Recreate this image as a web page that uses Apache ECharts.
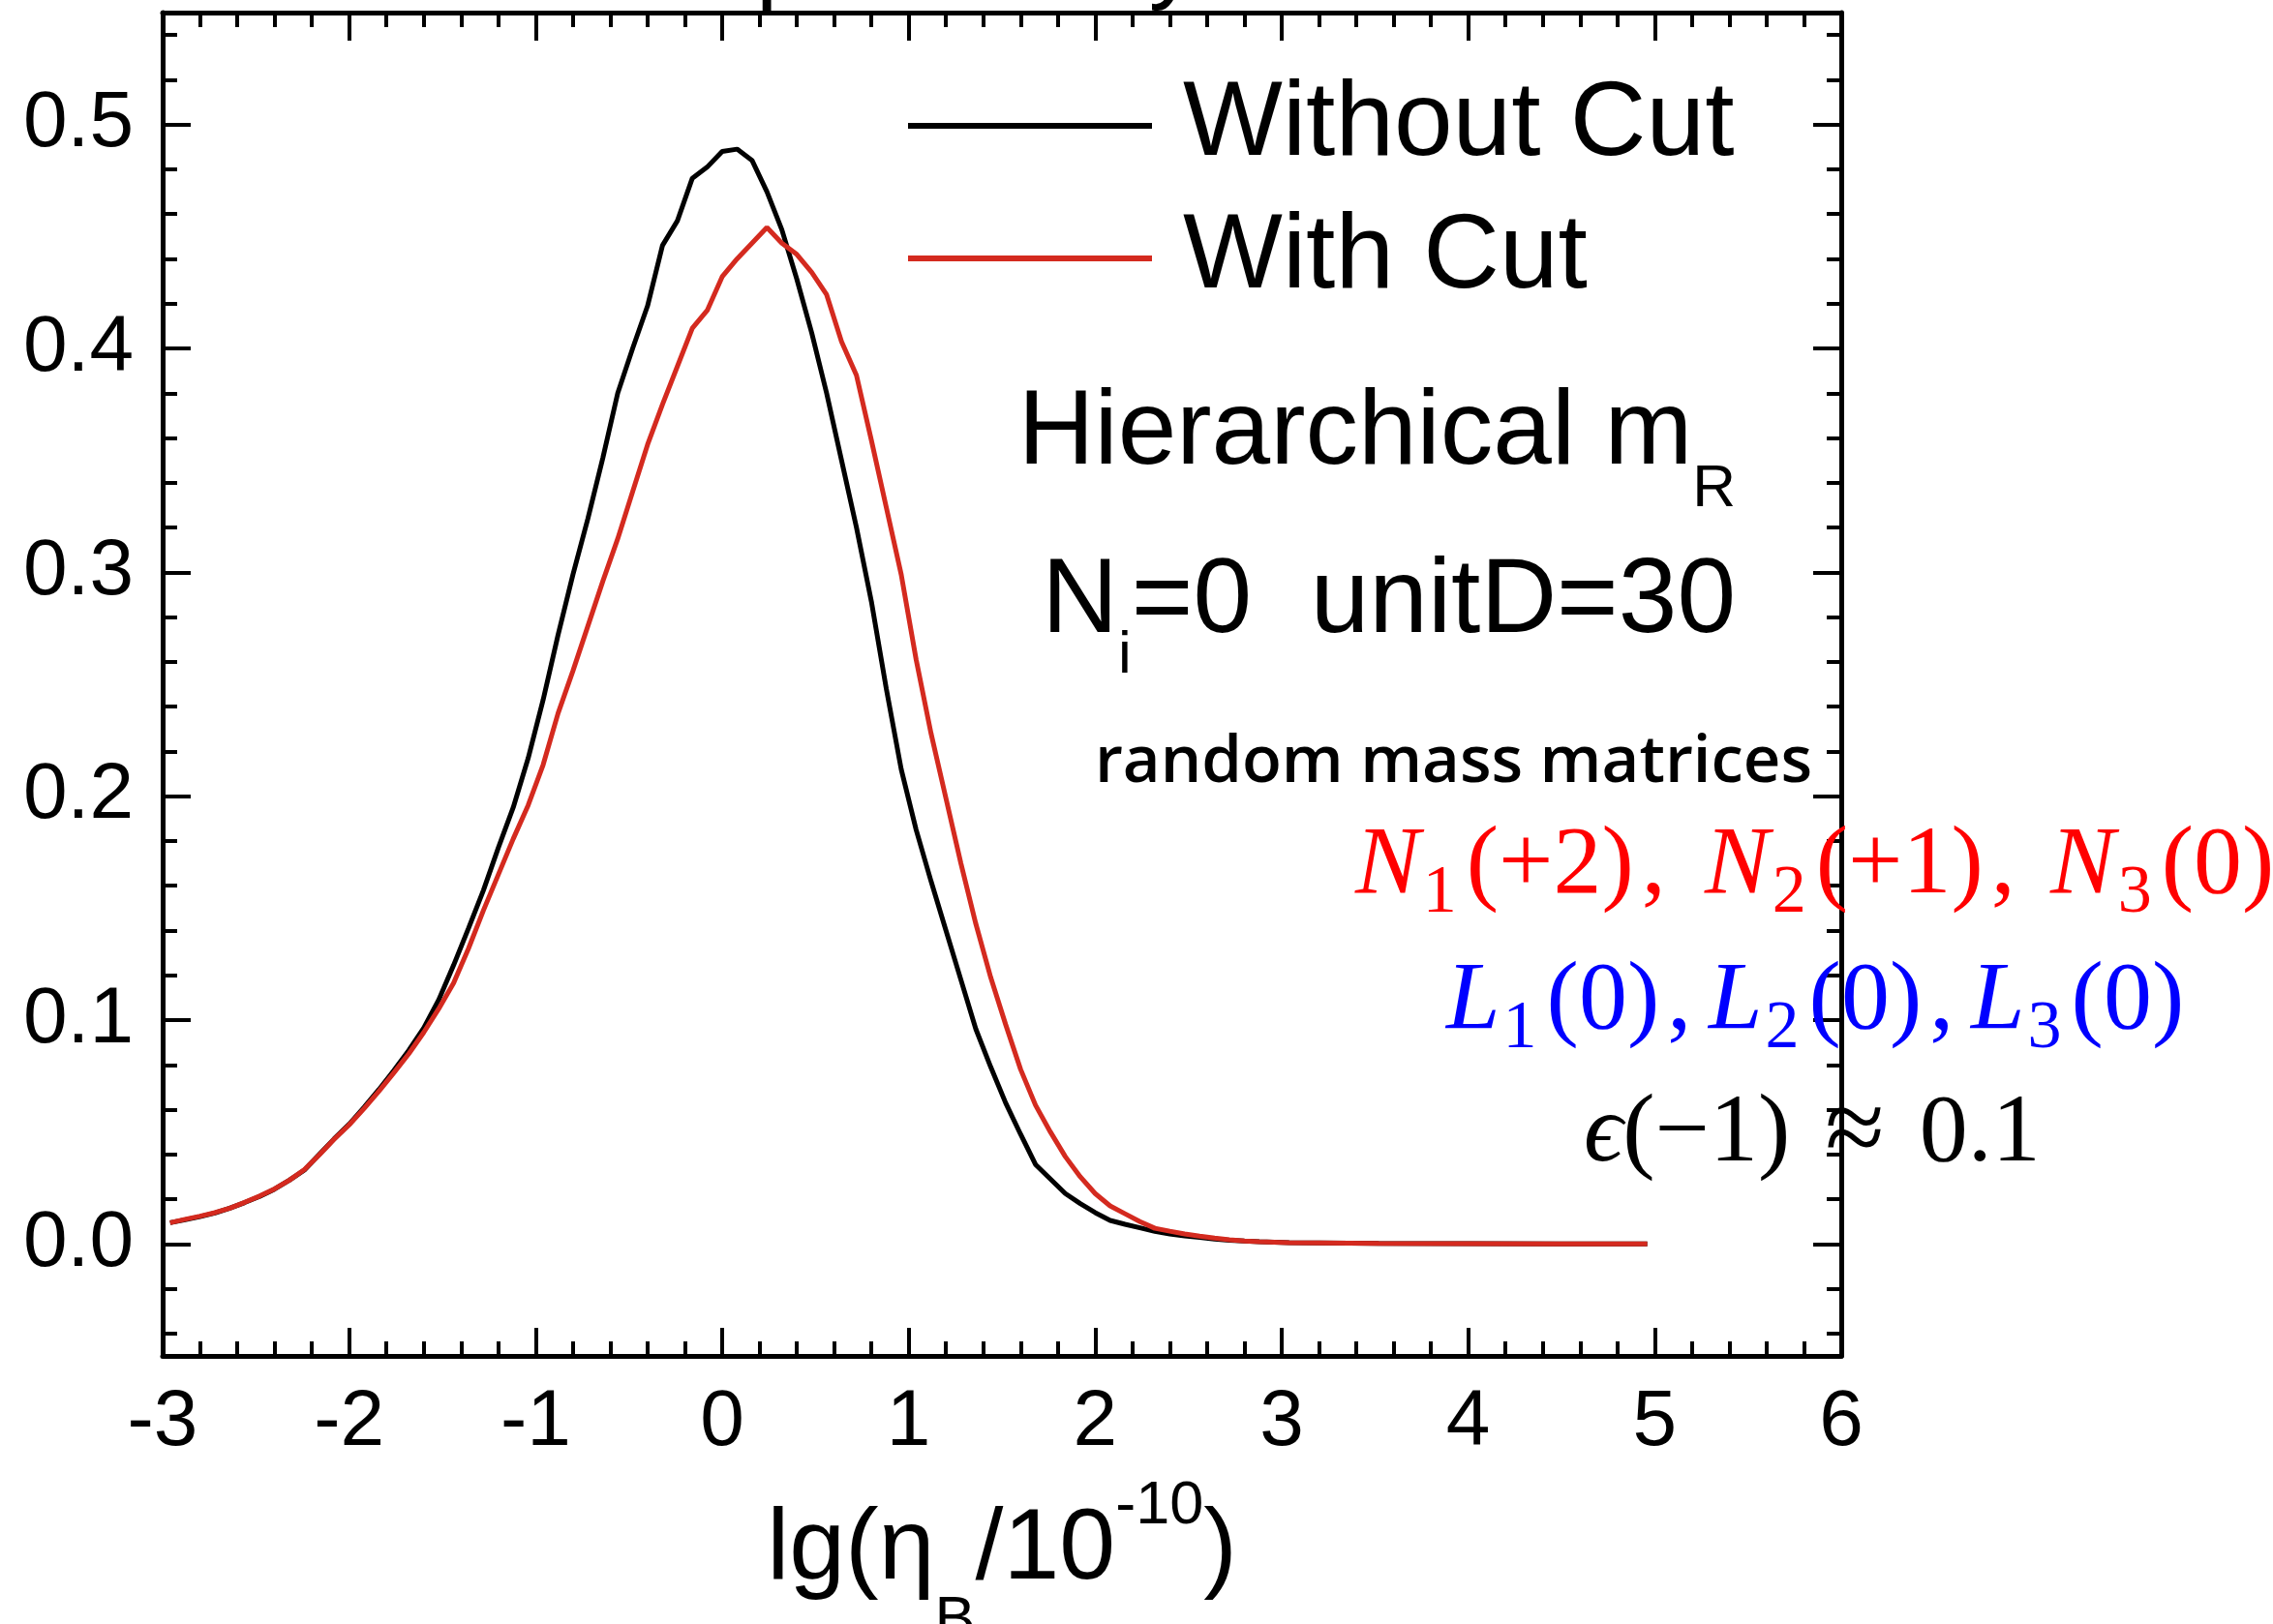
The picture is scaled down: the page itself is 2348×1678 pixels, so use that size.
<!DOCTYPE html>
<html>
<head>
<meta charset="utf-8">
<script src="https://cdn.jsdelivr.net/npm/echarts@6/dist/echarts.min.js"></script>
<style>
html, body { margin: 0; padding: 0; background: #fff; }
#chart { width: 2348px; height: 1678px; }
</style>
</head>
<body>
<div id="chart"></div>
<script>
// lg(eta_B / 1e-10) bin centres
const etaBins = [
  -2.96, -2.88, -2.80, -2.72, -2.64, -2.56, -2.48, -2.40, -2.32, -2.24,
  -2.16, -2.08, -2.00, -1.92, -1.84, -1.76, -1.68, -1.60, -1.52, -1.44,
  -1.36, -1.28, -1.20, -1.12, -1.04, -0.96, -0.88, -0.80, -0.72, -0.64,
  -0.56, -0.48, -0.40, -0.32, -0.24, -0.16, -0.08, 0.00, 0.08, 0.16,
  0.24, 0.32, 0.40, 0.48, 0.56, 0.64, 0.72, 0.80, 0.88, 0.96,
  1.04, 1.12, 1.20, 1.28, 1.36, 1.44, 1.52, 1.60, 1.68, 1.76,
  1.84, 1.92, 2.00, 2.08, 2.16, 2.24, 2.32, 2.40, 2.48, 2.56,
  2.64, 2.72, 2.80, 2.88, 2.96, 3.04, 3.52, 4.00, 4.48, 4.96
];

// probability per bin, all samples
const withoutCut = [
  0.0095, 0.0108, 0.0122, 0.0138, 0.0160, 0.0185, 0.0212, 0.0245, 0.0285, 0.0330,
  0.0400, 0.0470, 0.0535, 0.0610, 0.0690, 0.0775, 0.0865, 0.0965, 0.1090, 0.1245,
  0.1410, 0.1580, 0.1770, 0.1950, 0.2170, 0.2430, 0.2720, 0.2990, 0.3240, 0.3510,
  0.3800, 0.4000, 0.4190, 0.4460, 0.4570, 0.4760, 0.4810, 0.4880, 0.4890, 0.4840,
  0.4700, 0.4530, 0.4310, 0.4070, 0.3800, 0.3500, 0.3200, 0.2870, 0.2480, 0.2120,
  0.1850, 0.1620, 0.1400, 0.1180, 0.0960, 0.0790, 0.0630, 0.0490, 0.0355, 0.0290,
  0.0225, 0.0180, 0.0140, 0.0105, 0.0088, 0.0072, 0.0056, 0.0045, 0.0036, 0.0029,
  0.0022, 0.0017, 0.0013, 0.0010, 0.0008, 0.0006, 0.0002, 0.0001, 0.0000, 0.0000
];

// probability per bin, after the cut
const withCut = [
  0.0095, 0.0110, 0.0124, 0.0140, 0.0160, 0.0186, 0.0214, 0.0246, 0.0285, 0.0332,
  0.0398, 0.0468, 0.0532, 0.0605, 0.0683, 0.0765, 0.0850, 0.0945, 0.1050, 0.1165,
  0.1320, 0.1490, 0.1650, 0.1810, 0.1960, 0.2140, 0.2370, 0.2560, 0.2760, 0.2960,
  0.3150, 0.3360, 0.3570, 0.3750, 0.3920, 0.4090, 0.4170, 0.4320, 0.4400, 0.4470,
  0.4540, 0.4470, 0.4420, 0.4340, 0.4240, 0.4030, 0.3880, 0.3590, 0.3290, 0.2990,
  0.2610, 0.2280, 0.1990, 0.1700, 0.1430, 0.1190, 0.0980, 0.0780, 0.0620, 0.0500,
  0.0390, 0.0300, 0.0225, 0.0170, 0.0135, 0.0100, 0.0070, 0.0057, 0.0045, 0.0035,
  0.0026, 0.0019, 0.0013, 0.0010, 0.0008, 0.0006, 0.0002, 0.0001, 0.0000, 0.0000
];

const seriesNames = ['Without Cut', 'With Cut'];
const seriesColors = ['#000000', '#d42a1f'];

const SANS = '"Liberation Sans", Arial, Helvetica, sans-serif';
const SERIF = '"Liberation Serif", "Times New Roman", serif';
const HUMANIST = '"Open Sans", Lato, sans-serif';
// distance from the text middle line to the alphabetic baseline, in em
const K_SANS = 0.3465;
const K_SERIF = 0.3375;

function pairs(xs, ys) {
  return xs.map(function (x, i) { return [x, ys[i]]; });
}

// rich-text token whose baseline sits `drop` px below (negative: above) the main baseline
function shifted(family, size, mainSize, k, drop, padLeft, padRight) {
  const s = drop + k * (mainSize - size);
  const pad = s >= 0 ? [2 * s, padRight || 0, 0, padLeft || 0] : [0, padRight || 0, -2 * s, padLeft || 0];
  return { fontFamily: family, fontSize: size, lineHeight: mainSize, padding: pad };
}

function plain(family, size, extra) {
  return Object.assign({ fontFamily: family, fontSize: size, lineHeight: size }, extra || {});
}

function label(x, y, align, text, rich, fill) {
  return {
    type: 'text', x: x, y: y, z: 50, silent: true,
    style: { text: text, rich: rich, align: align, verticalAlign: 'middle', fill: fill }
  };
}

const F = 109;        // annotation size
const FM = 100;       // math size
const richSans = {
  m: plain(SANS, F),
  s: shifted(SANS, 62, F, K_SANS, 41)
};
const richSansI = {
  m: plain(SANS, F),
  s: shifted(SANS, 62, F, K_SANS, 39)
};
const richMath = {
  i: plain(SERIF, FM, { fontStyle: 'italic' }),
  m: plain(SERIF, FM),
  c: plain(SERIF, FM, { padding: [0, 0, 0, 8] }),
  s: shifted(SERIF, 70, FM, K_SERIF, 17, 3, 10),
  op: { fontFamily: SERIF, fontSize: 112, lineHeight: FM, padding: [0, 36, 0, 36] }
};

const redGroups = ['{i|N}{s|1}{m|(+2)}{c|,}', '{i|N}{s|2}{m|(+1)}{c|,}', '{i|N}{s|3}{m|(0)}'];
const redX = [1400, 1761, 2118];
const blueGroups = ['{i|L}{s|1}{m|(0)}{c|,}', '{i|L}{s|2}{m|(0)}{c|,}', '{i|L}{s|3}{m|(0)}'];
const blueX = [1494, 1765, 2036];

const graphics = [
  // headline of the panel, mostly above the frame
  { type: 'text', x: 781, y: -38, z: 50, silent: true,
    style: { text: 'probability', fontFamily: SANS, fontSize: 100, fill: '#000', align: 'left', verticalAlign: 'middle' } },
  label(1793, 449, 'right', '{m|Hierarchical m}{s|R}', richSans, '#000'),
  label(1793, 623, 'right', '{m|N}{s|i}{m|=0  unitD=30}', richSansI, '#000'),
  { type: 'text', x: 1872, y: 789, z: 50, silent: true,
    style: { text: 'random mass matrices', fontFamily: HUMANIST, fontWeight: 600, fontSize: 67,
             fill: '#000', align: 'right', verticalAlign: 'middle' } },
  label(1636, 1173, 'left', '{i|\u03f5}{m|(\u22121)}{op|\u2248}{m|0.1}', richMath, '#000')
];
redGroups.forEach(function (t, i) { graphics.push(label(redX[i], 896, 'left', t, richMath, '#ff0000')); });
blueGroups.forEach(function (t, i) { graphics.push(label(blueX[i], 1036, 'left', t, richMath, '#0000ff')); });

const frameLine = { show: true, onZero: false, lineStyle: { color: '#000', width: 5 } };
const majorTick = { show: true, inside: true, length: 29, lineStyle: { color: '#000', width: 4 } };
const minorTick = { show: true, splitNumber: 5, length: 15, lineStyle: { color: '#000', width: 4 } };

function xAxisDef(pos, showLabels) {
  return {
    type: 'value', position: pos, min: -3, max: 6, interval: 1,
    axisLine: frameLine, axisTick: majorTick, minorTick: minorTick,
    splitLine: { show: false }, minorSplitLine: { show: false },
    axisLabel: { show: showLabels, margin: 28, fontFamily: SANS, fontSize: 82, color: '#000' }
  };
}

function yAxisDef(pos, showLabels) {
  return {
    type: 'value', position: pos, min: -0.05, max: 0.55, splitNumber: 6,
    axisLine: frameLine, axisTick: majorTick, minorTick: minorTick,
    splitLine: { show: false }, minorSplitLine: { show: false },
    axisLabel: {
      show: showLabels, margin: 30, fontFamily: SANS, fontSize: 82, color: '#000',
      formatter: function (v) {
        return Math.abs(Math.round(v * 10) - v * 10) < 1e-6 ? v.toFixed(1) : '';
      }
    }
  };
}

const xTitle = xAxisDef('bottom', true);
xTitle.name = '{m|lg(\u03b7}{s|B}{m|/10}{u|-10}{m|)}';
xTitle.nameLocation = 'middle';
xTitle.nameGap = 149;
xTitle.nameMoveOverlap = false;
xTitle.nameTextStyle = {
  fontFamily: SANS, fontSize: 104, lineHeight: 104, color: '#000',
  rich: {
    m: plain(SANS, 104),
    s: shifted(SANS, 63, 104, K_SANS, 59),
    u: shifted(SANS, 63, 104, K_SANS, -60)
  }
};

const chart = echarts.init(document.getElementById('chart'), null, { renderer: 'canvas' });
chart.setOption({
  animation: false,
  backgroundColor: '#ffffff',
  grid: { left: 168, right: 446, top: 13, bottom: 277, containLabel: false, outerBoundsMode: 'none' },
  legend: {
    orient: 'vertical', left: 938, top: 75, padding: 0,
    itemWidth: 252, itemHeight: 6, itemGap: 27, icon: 'rect',
    selectedMode: false,
    textStyle: { fontFamily: SANS, fontSize: 109, lineHeight: 110, color: '#000', padding: [0, 0, 0, 27] },
    data: seriesNames
  },
  xAxis: [xTitle, xAxisDef('top', false)],
  yAxis: [yAxisDef('left', true), yAxisDef('right', false)],
  series: seriesNames.map(function (name, i) {
    return {
      name: name, type: 'line', xAxisIndex: 0, yAxisIndex: 0,
      data: pairs(etaBins, i === 0 ? withoutCut : withCut),
      showSymbol: false, symbol: 'none', smooth: false,
      color: seriesColors[i],
      itemStyle: { color: seriesColors[i] },
      lineStyle: { color: seriesColors[i], width: 5 },
      z: 3 + i
    };
  }),
  graphic: graphics
});
</script>
</body>
</html>
